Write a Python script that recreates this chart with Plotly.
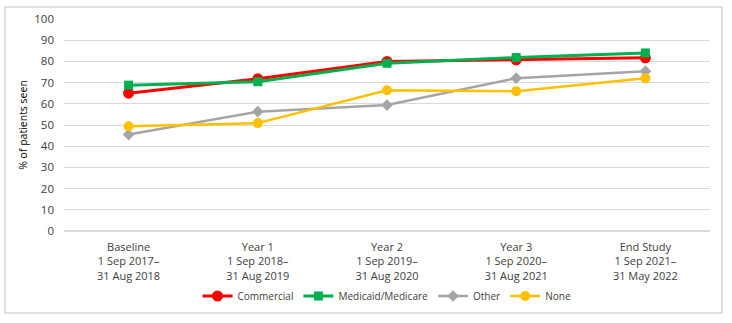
import plotly.graph_objects as go

categories = ["Baseline<br>1 Sep 2017–<br>31 Aug 2018",
              "Year 1<br>1 Sep 2018–<br>31 Aug 2019",
              "Year 2<br>1 Sep 2019–<br>31 Aug 2020",
              "Year 3<br>1 Sep 2020–<br>31 Aug 2021",
              "End Study<br>1 Sep 2021–<br>31 May 2022"]
commercial = [65.0, 71.8, 80.0, 80.7, 81.7]
medicaid = [68.8, 70.4, 79.1, 81.8, 84.0]
other = [45.5, 56.3, 59.4, 72.1, 75.4]
none = [49.4, 50.9, 66.4, 65.9, 72.0]

W, H = 732, 323
L, R, T, B = 64, 22, 19, 92
pw, ph = W - L - R, H - T - B

fig = go.Figure()
fig.add_trace(go.Scatter(x=categories, y=commercial, name="Commercial", mode="lines+markers",
                         line=dict(color="#FF0000", width=3),
                         marker=dict(symbol="circle", size=11, color="#FF0000")))
fig.add_trace(go.Scatter(x=categories, y=medicaid, name="Medicaid/Medicare", mode="lines+markers",
                         line=dict(color="#00B050", width=3),
                         marker=dict(symbol="square", size=9, color="#00B050")))
fig.add_trace(go.Scatter(x=categories, y=other, name="Other", mode="lines+markers",
                         line=dict(color="#A5A5A5", width=2.5),
                         marker=dict(symbol="diamond", size=9, color="#A5A5A5")))
fig.add_trace(go.Scatter(x=categories, y=none, name="None", mode="lines+markers",
                         line=dict(color="#FFC000", width=2.5),
                         marker=dict(symbol="circle", size=10, color="#FFC000")))

def px2x(px):
    return (px - L) / pw

def py2y(py):
    return (H - B - py) / ph

fig.add_shape(type="rect", xref="paper", yref="paper",
              x0=px2x(5), x1=px2x(722), y0=py2y(313), y1=py2y(7),
              line=dict(color="#BFBFBF", width=1), fillcolor="rgba(0,0,0,0)", layer="below")

fig.update_layout(
    width=W, height=H,
    margin=dict(l=L, r=R, t=T, b=B),
    paper_bgcolor="white", plot_bgcolor="white",
    font=dict(family="Open Sans, Liberation Sans, sans-serif", size=11, color="#404040"),
    xaxis=dict(type="category", range=[-0.5, 4.5], showgrid=False, showline=False, ticks="",
               zeroline=False, ticklabelstandoff=8,
               tickfont=dict(size=11, color="#404040")),
    yaxis=dict(range=[0, 100], dtick=10, showgrid=True, gridcolor="#D9D9D9", gridwidth=1,
               zeroline=True, zerolinecolor="#D9D9D9", zerolinewidth=1.5,
               showline=False, ticks="", ticklabelstandoff=9,
               title=dict(text="% of patients seen", font=dict(size=10.5, color="#000000"), standoff=4),
               tickfont=dict(size=11.5, color="#404040")),
    legend=dict(orientation="h", x=0.5, xanchor="center", y=py2y(296), yanchor="middle",
                font=dict(size=10, color="#404040"), itemwidth=30, tracegroupgap=0,
                bgcolor="rgba(0,0,0,0)"),
    showlegend=True,
)

fig.write_html("out.html")
